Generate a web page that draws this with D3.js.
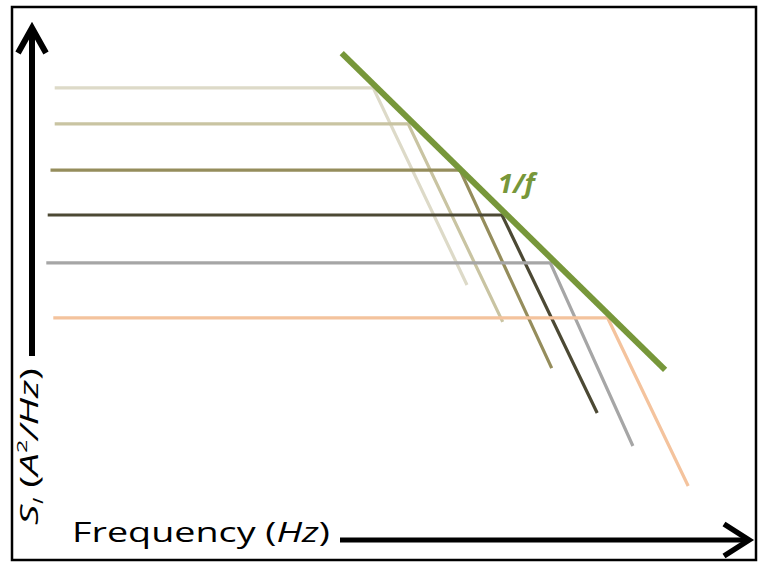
<!DOCTYPE html>
<html>
<head>
<meta charset="utf-8">
<script src="https://cdn.jsdelivr.net/npm/d3@7"></script>
<style>
  body { margin: 0; background: #fff; }
  svg { display: block; }
  text { font-family: "Open Sans", sans-serif; }
</style>
</head>
<body>
<div id="chart"></div>
<script>
// schematic units (0..100 on both axes)
const startFreq  = [2.1, 2.1, 1.5, 1.1, 0.9, 1.9]
const cornerFreq = [47.6, 52.6, 60.0, 66.0, 72.9, 81.1]
const endFreq    = [61.0, 66.1, 73.1, 79.6, 84.7, 92.6]
const plateau    = [91.4, 83.2, 72.7, 62.5, 51.6, 39.1]
const endLevel   = [46.6, 38.2, 27.7, 17.5, 10.0, 0.9]
const colors = ['#dddac8', '#c9c4a2', '#958d5c', '#4c4934', '#a6a6a6', '#f4c39d']

const oneOverF = [[43.1, 99.3], [89.3, 27.3]]

const w = 761
const h = 564

const x = d3.scaleLinear().domain([0, 100]).range([40, 740])
const y = d3.scaleLinear().domain([0, 100]).range([490, 50])

const svg = d3.select('#chart')
  .append('svg')
  .attr('width', w)
  .attr('height', h)

// frame
svg.append('rect')
  .attr('x', 12).attr('y', 7)
  .attr('width', 744).attr('height', 553)
  .attr('fill', 'none')
  .attr('stroke', '#000')
  .attr('stroke-width', 2.5)

const spectra = startFreq.map((s, i) => [
  [s, plateau[i]],
  [cornerFreq[i], plateau[i]],
  [endFreq[i], endLevel[i]]
])

const line = d3.line().x(d => x(d[0])).y(d => y(d[1]))

svg.selectAll('path.spec')
  .data(spectra)
  .enter()
  .append('path')
  .attr('class', 'spec')
  .attr('d', line)
  .attr('fill', 'none')
  .attr('stroke', (d, i) => colors[i])
  .attr('stroke-width', 3.2)

svg.append('path')
  .attr('d', line(oneOverF))
  .attr('fill', 'none')
  .attr('stroke', '#77973a')
  .attr('stroke-width', 6)

svg.append('text')
  .attr('x', x(65.4))
  .attr('y', y(67.5))
  .attr('fill', '#77973a')
  .attr('font-size', 26)
  .attr('font-weight', 'bold')
  .attr('font-style', 'italic')
  .attr('textLength', 37)
  .attr('lengthAdjust', 'spacingAndGlyphs')
  .text('1/f')

// axis arrows
const axes = svg.append('g')
  .attr('fill', 'none')
  .attr('stroke', '#000')

axes.append('line')
  .attr('x1', 32).attr('y1', 356)
  .attr('x2', 32).attr('y2', 30)
  .attr('stroke-width', 6)
axes.append('polyline')
  .attr('points', '18,53 32,28 46,53')
  .attr('stroke-width', 6)

axes.append('line')
  .attr('x1', 340).attr('y1', 540)
  .attr('x2', 748).attr('y2', 540)
  .attr('stroke-width', 5)
axes.append('polyline')
  .attr('points', '724,524 749,540 724,556')
  .attr('stroke-width', 5.5)

// x label
const xl = svg.append('text')
  .attr('x', 72)
  .attr('y', 542)
  .attr('font-size', 27)
  .attr('textLength', 258)
  .attr('lengthAdjust', 'spacingAndGlyphs')
xl.append('tspan').text('Frequency (')
xl.append('tspan').attr('font-style', 'italic').text('Hz')
xl.append('tspan').text(')')

// y label
const yl = svg.append('text')
  .attr('transform', 'translate(38,525) rotate(-90)')
  .attr('font-size', 26)
  .attr('textLength', 157)
  .attr('lengthAdjust', 'spacingAndGlyphs')
yl.append('tspan').attr('font-style', 'italic').text('S')
yl.append('tspan').attr('font-style', 'italic').attr('font-size', 15).attr('dy', 5).text('I')
yl.append('tspan').attr('dy', -5).text(' (')
yl.append('tspan').attr('font-style', 'italic').text('A')
yl.append('tspan').attr('font-size', 15).attr('dy', -11).text('2')
yl.append('tspan').attr('font-style', 'italic').attr('dy', 11).text('/Hz')
yl.append('tspan').text(')')
</script>
</body>
</html>
